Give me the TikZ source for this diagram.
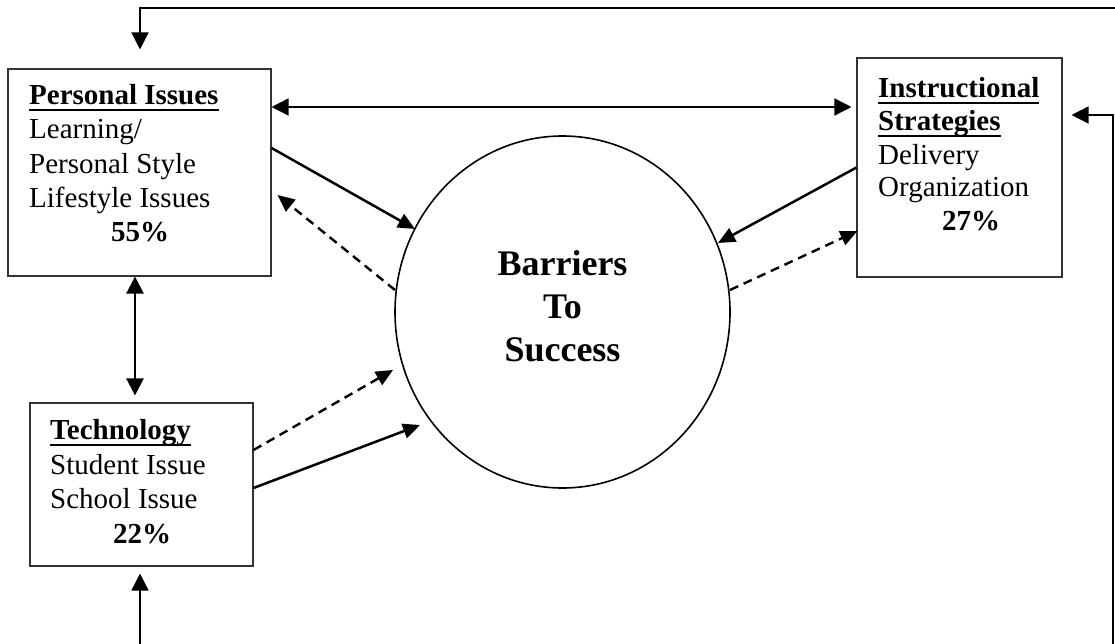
\documentclass[tikz,border=0pt]{standalone}
\usepackage{fontspec}
\setmainfont{Liberation Serif}
\usetikzlibrary{arrows.meta,shapes.geometric}
\newcommand\myul[1]{\setbox0\hbox{#1}\rlap{\rule[-6pt]{\wd0}{1.7pt}}\box0}
\begin{document}
\begin{tikzpicture}[x=1pt,y=-1pt,
  box/.style={draw=black!80,line width=1.1pt,rectangle,inner sep=0pt},
  txt/.style={anchor=base west,align=left,inner sep=0pt,font=\fontsize{29}{34}\selectfont},
  arr/.style={line width=1.6pt,-{Triangle[length=17pt,width=17pt]}},
  darr/.style={line width=1.6pt,{Triangle[length=17pt,width=17pt]}-{Triangle[length=17pt,width=17pt]}},
  sarr/.style={line width=2.5pt,-{Triangle[length=17pt,width=15pt]}},
  dsh/.style={line width=2.4pt,dash pattern=on 9pt off 6pt,-{Triangle[length=17pt,width=15pt]}}
]
\useasboundingbox (0,0) rectangle (1115,644);
\fill[white] (0,0) rectangle (1115,644);

\node[box,minimum width=263pt,minimum height=207pt] (pers) at (139.5,172.5) {};
\node[box,minimum width=205pt,minimum height=219pt] (instr) at (959.5,167.5) {};
\node[box,minimum width=223pt,minimum height=163pt] (tech) at (141.5,484.5) {};
\node[draw,line width=1.6pt,ellipse,minimum width=335pt,minimum height=352pt,inner sep=0pt] (circ) at (562.5,312) {};

\node[txt] (perst) at (29,241) {\textbf{\myul{Personal Issues}}\\Learning/\\Personal Style\\Lifestyle Issues\\\hspace*{82pt}\textbf{55\%}};
\node[txt,font=\fontsize{29}{33}\selectfont] (instrt) at (878,230) {\textbf{\myul{Instructional}}\\\textbf{\myul{Strategies}}\\Delivery\\Organization\\\hspace*{64pt}\textbf{27\%}};
\node[txt,font=\fontsize{29}{34.5}\selectfont] (techt) at (50,543) {\textbf{\myul{Technology}}\\Student Issue\\School Issue\\\hspace*{63pt}\textbf{22\%}};
\node[anchor=base,align=center,inner sep=0pt,font=\fontsize{36}{43}\selectfont\bfseries] (bts) at (562.5,361) {Barriers\\To\\Success};

\coordinate (topR) at (1117,8);
\coordinate (botR) at (1113,646);
\coordinate (botL) at (140,646);

\draw[arr] (topR) -| ([xshift=0.5pt,yshift=19pt]pers.north);
\draw[arr] (botR) |- ([xshift=9pt,yshift=52.5pt]instr.east);
\draw[arr] (botL) -- ([xshift=-1.5pt,yshift=-7pt]tech.south);
\draw[darr] ([yshift=65.5pt]pers.east) -- ([xshift=-5pt,yshift=60.5pt]instr.west);
\draw[darr,line width=2.3pt] ([xshift=-4.5pt]pers.south) -- ([xshift=-6.5pt,yshift=7pt]tech.north);

\draw[sarr] ([yshift=24.5pt]pers.east) -- ([xshift=-147.5pt,yshift=83pt]circ.center);
\draw[dsh] ([xshift=-167.5pt,yshift=22pt]circ.center) -- ([xshift=6pt,yshift=-22.5pt]pers.east);
\draw[sarr] (instr.west) -- ([xshift=155.5pt,yshift=69pt]circ.center);
\draw[dsh] ([xshift=167.5pt,yshift=22pt]circ.center) -- ([xshift=1pt,yshift=-63.5pt]instr.west);
\draw[dsh] ([yshift=34.5pt]tech.east) -- ([xshift=-169.5pt,yshift=-58pt]circ.center);
\draw[sarr] ([yshift=-3.5pt]tech.east) -- ([xshift=-142.5pt,yshift=-113pt]circ.center);
\end{tikzpicture}
\end{document}
